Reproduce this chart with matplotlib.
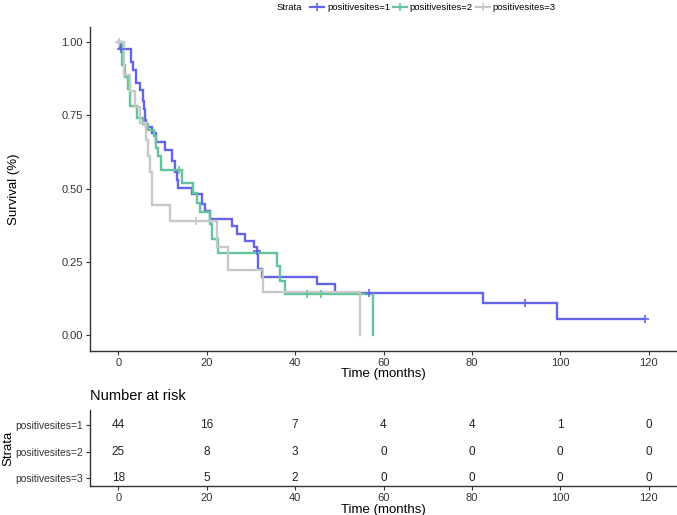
import numpy as np
import matplotlib
matplotlib.use("Agg")
import matplotlib.pyplot as plt
from matplotlib.lines import Line2D

plt.rcParams['font.family'] = ['Liberation Sans', 'DejaVu Sans']

# ---------------- data ----------------
strata = ["positivesites=1", "positivesites=2", "positivesites=3"]

t1 = [0, 0.4, 2.8, 3.3, 4.0, 4.9, 5.5, 5.8, 6.0, 6.2, 7.6, 8.5, 10.6, 12.1, 12.8, 13.2,
      13.6, 16.6, 18.9, 19.6, 20.7, 25.7, 26.8, 28.7, 30.6, 31.3, 31.7, 32.5, 44.9, 49.1,
      82.5, 99.2, 119.2]
s1 = [1.0, 0.977, 0.93, 0.905, 0.86, 0.835, 0.80, 0.77, 0.735, 0.71, 0.69, 0.66, 0.63,
      0.595, 0.555, 0.53, 0.502, 0.48, 0.446, 0.423, 0.395, 0.372, 0.344, 0.321, 0.299,
      0.287, 0.224, 0.20, 0.173, 0.145, 0.108, 0.054, 0.054]
c1 = [0.6, 31.3, 56.8, 92.1, 119.2]

t2 = [0, 0.8, 1.6, 2.3, 2.7, 4.3, 5.7, 6.8, 8.0, 8.6, 9.0, 9.6, 14.4, 17.0, 17.7, 18.4,
      20.8, 21.2, 22.6, 35.9, 36.5, 37.8, 57.7]
s2 = [1.0, 0.92, 0.88, 0.84, 0.78, 0.74, 0.72, 0.70, 0.68, 0.64, 0.61, 0.565, 0.52, 0.485,
      0.45, 0.42, 0.378, 0.327, 0.281, 0.236, 0.185, 0.14, 0.0]
c2 = [13.8, 42.8, 45.8]

t3 = [0, 1.3, 2.6, 3.8, 4.8, 6.2, 6.8, 7.2, 7.6, 11.7, 22.3, 24.9, 32.8, 54.7]
s3 = [1.0, 0.889, 0.833, 0.778, 0.722, 0.667, 0.611, 0.556, 0.444, 0.389, 0.30, 0.222,
      0.148, 0.0]
c3 = [0.2, 17.5]

risk_times = [0, 20, 40, 60, 80, 100, 120]
risk1 = [44, 16, 7, 4, 4, 1, 0]
risk2 = [25, 8, 3, 0, 0, 0, 0]
risk3 = [18, 5, 2, 0, 0, 0, 0]

y_ticks = [0.0, 0.25, 0.50, 0.75, 1.00]
y_ticklabels = ["0.00", "0.25", "0.50", "0.75", "1.00"]

colors = ["#6464E6", "#66C49C", "#C8C8C8"]

# ---------------- figure ----------------
W, H = 677, 515
fig = plt.figure(figsize=(W / 100, H / 100), dpi=100)

def frac(l, t, r, b):
    return [l / W, 1 - b / H, (r - l) / W, (b - t) / H]

ax = fig.add_axes(frac(90, 27, 677, 351))
xlim = (-6.4, 126.4)

series = [(t1, s1, c1), (t2, s2, c2), (t3, s3, c3)]
for (tt, ss, cc), col in zip(series, colors):
    ax.step(tt, ss, where='post', color=col, lw=1.7, solid_joinstyle='miter', zorder=3)
    tt_a = np.array(tt); ss_a = np.array(ss)
    idx = np.searchsorted(tt_a, np.array(cc), side='right') - 1
    ax.plot(cc, ss_a[idx], linestyle='none', marker='+', ms=6, mew=1.2, color=col, zorder=4)

ax.set_xlim(*xlim)
ax.set_ylim(-0.054, 1.051)
ax.set_xticks(risk_times)
ax.set_yticks(y_ticks)
ax.set_yticklabels(y_ticklabels)
for sp in ['top', 'right']:
    ax.spines[sp].set_visible(False)
for sp in ['left', 'bottom']:
    ax.spines[sp].set_linewidth(1.0)
    ax.spines[sp].set_color('#333333')
ax.tick_params(axis='both', labelsize=8, colors='#333333', length=3, width=0.8,
               labelcolor='#333333', pad=2)
ax.set_xlabel("Time (months)", fontsize=9.5, labelpad=0, color='black')
ax.set_ylabel("Survival (%)", fontsize=9.5, color='black')
ax.yaxis.set_label_coords((20 - 90) / 587, 0.5)

# legend at top
handles = [Line2D([0], [0], color=c, lw=1.6, marker='+', ms=6, mew=1.2) for c in colors]
leg = fig.legend(handles, strata, loc='center', bbox_to_anchor=(416 / W, 1 - 8 / H),
                 ncol=3, frameon=False, fontsize=6.8, handlelength=1.5, handletextpad=0.3,
                 columnspacing=0.3, title="Strata", title_fontsize=6.8)
try:
    from matplotlib.offsetbox import HPacker
    title_box = leg._legend_title_box
    handle_box = leg._legend_handle_box
    leg._legend_box._children = [HPacker(pad=0, sep=6, align='center',
                                         children=[title_box, handle_box])]
except Exception:
    pass

# ---------------- risk table ----------------
axr = fig.add_axes(frac(90, 410, 677, 486))
axr.set_xlim(*xlim)
axr.set_ylim(0.70, 3.57)
risks = [risk1, risk2, risk3]
ypos = [3, 2, 1]
for r, y in zip(risks, ypos):
    for t, v in zip(risk_times, r):
        axr.text(t, y, str(v), ha='center', va='center', fontsize=8.5, color='#222222')
axr.set_yticks(ypos)
axr.set_yticklabels(strata)
axr.set_xticks(risk_times)
for sp in ['top', 'right']:
    axr.spines[sp].set_visible(False)
for sp in ['left', 'bottom']:
    axr.spines[sp].set_linewidth(1.0)
    axr.spines[sp].set_color('#333333')
axr.tick_params(axis='both', labelsize=8, colors='#333333', length=3, width=0.8,
                labelcolor='#333333', pad=2)
axr.tick_params(axis='y', labelsize=7.4)
axr.set_xlabel("Time (months)", fontsize=9.5, labelpad=1, color='black')
axr.set_ylabel("Strata", fontsize=9.5, color='black')
axr.yaxis.set_label_coords((14 - 90) / 587, 0.5)
fig.text(90 / W, 1 - 396 / H, "Number at risk", fontsize=10.5, ha='left', va='center',
         color='black')

fig.savefig("out.png", dpi=100)
